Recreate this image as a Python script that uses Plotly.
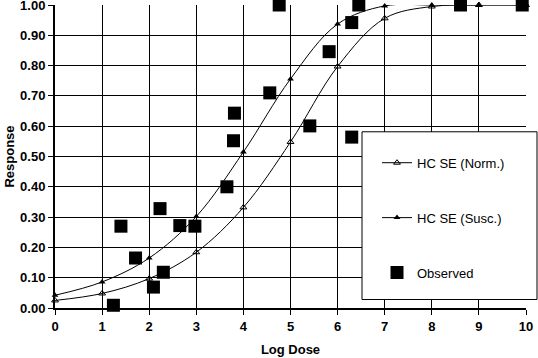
import plotly.graph_objects as go

# Fitted curves (evaluated at integer log doses)
dose_fit = [0, 1, 2, 3, 4, 5, 6, 7, 8, 9, 10]
norm_fit = [0.025, 0.048, 0.097, 0.184, 0.332, 0.548, 0.797, 0.956, 0.995, 1.0, 1.0]
susc_fit = [0.042, 0.086, 0.165, 0.302, 0.515, 0.756, 0.937, 0.997, 1.0, 1.0, 1.0]

# Observed responses
obs_dose = [1.24, 1.40, 1.71, 2.09, 2.23, 2.30, 2.65, 2.97, 3.65, 3.79, 3.81,
            4.56, 4.76, 5.41, 5.82, 6.30, 6.30, 6.45, 8.61, 9.92]
obs_resp = [0.009, 0.270, 0.165, 0.069, 0.328, 0.118, 0.272, 0.270, 0.400, 0.552, 0.643,
            0.710, 1.000, 0.601, 0.846, 0.942, 0.564, 1.000, 1.000, 1.000]

x_ticks = list(range(0, 11))
y_ticks = [i / 10 for i in range(0, 11)]

bold_font = dict(family="Liberation Sans, Arial, sans-serif", size=13, color="black", weight="bold")

fig = go.Figure()
fig.add_trace(go.Scatter(
    x=dose_fit, y=norm_fit, mode="lines+markers", name="HC SE (Norm.)",
    line=dict(color="black", width=1, shape="spline"),
    marker=dict(symbol="triangle-up-open", size=6, color="black", line=dict(width=1, color="black")),
    legendgroup="a", cliponaxis=False))
fig.add_trace(go.Scatter(
    x=dose_fit, y=susc_fit, mode="lines+markers", name="HC SE (Susc.)",
    line=dict(color="black", width=1, shape="spline"),
    marker=dict(symbol="triangle-up", size=6, color="black"),
    legendgroup="b", cliponaxis=False))
fig.add_trace(go.Scatter(
    x=obs_dose, y=obs_resp, mode="markers", name="Observed",
    marker=dict(symbol="square", size=13, color="black"),
    legendgroup="c", cliponaxis=False))

# legend box
fig.add_shape(type="rect", xref="paper", yref="paper",
              x0=(362 - 55) / 471, x1=(537 - 55) / 471,
              y0=(308.5 - 300) / 303.5, y1=(308.5 - 132) / 303.5,
              fillcolor="white", line=dict(color="black", width=1), layer="above")

fig.update_layout(
    width=538, height=358,
    margin=dict(l=55, r=12, t=5, b=49.5, autoexpand=False),
    paper_bgcolor="white", plot_bgcolor="white",
    showlegend=True,
    legend=dict(x=(377 - 55) / 471, y=(308.5 - 148) / 303.5, xanchor="left", yanchor="top",
                bgcolor="rgba(0,0,0,0)", borderwidth=0,
                font=dict(family="Liberation Sans, Arial, sans-serif", size=13, color="black"),
                traceorder="grouped", tracegroupgap=35, itemwidth=30),
    xaxis=dict(range=[0, 10], tickvals=x_ticks, ticktext=[str(t) for t in x_ticks],
               showgrid=True, gridcolor="black", gridwidth=1,
               showline=True, linecolor="black", linewidth=2,
               ticks="outside", ticklen=5, tickwidth=1, tickcolor="black",
               tickfont=bold_font, zeroline=False, automargin=False,
               ticklabeloverflow="allow",
               title=dict(text="Log Dose", font=bold_font, standoff=12)),
    yaxis=dict(range=[0, 1], tickvals=y_ticks, ticktext=[f"{v:.2f}" for v in y_ticks],
               showgrid=True, gridcolor="black", gridwidth=1,
               showline=True, linecolor="black", linewidth=2,
               ticks="outside", ticklen=5, tickwidth=1, tickcolor="black",
               tickfont=bold_font, zeroline=False, automargin=False,
               ticklabeloverflow="allow",
               title=dict(text="Response", font=bold_font, standoff=3)),
)

fig.write_html("out.html", config={"displayModeBar": False},
               post_script="document.body.style.margin='0';document.body.style.padding='0';")
